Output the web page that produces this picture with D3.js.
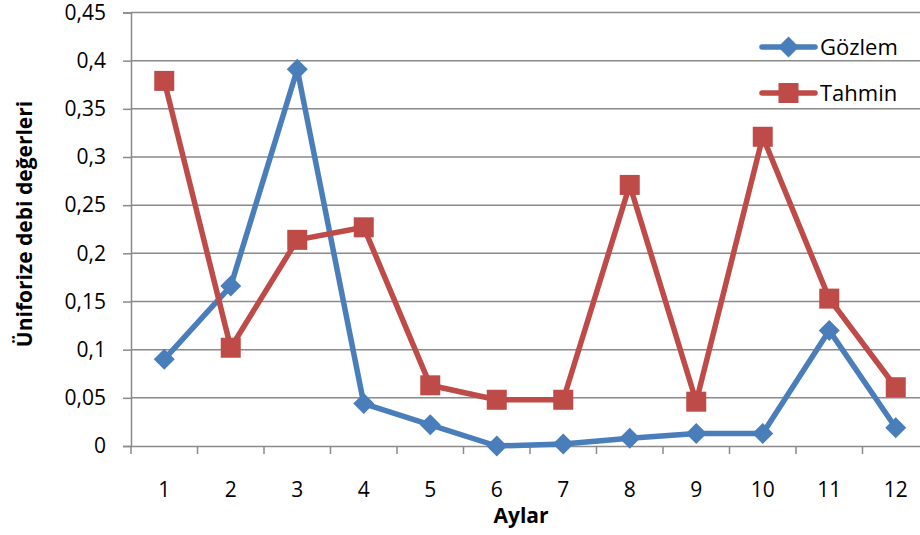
<!DOCTYPE html>
<html>
<head>
<meta charset="utf-8">
<script src="https://cdn.jsdelivr.net/npm/d3@7"></script>
<style>
  body { margin: 0; background: #fff; }
  text { font-family: "Open Sans", Lato, sans-serif; fill: #000; }
</style>
</head>
<body>
<svg width="920" height="535"></svg>
<script>
// data
var months = [1, 2, 3, 4, 5, 6, 7, 8, 9, 10, 11, 12];
var gozlem = [0.09, 0.166, 0.391, 0.044, 0.022, 0.0, 0.002, 0.008, 0.013, 0.013, 0.12, 0.019];
var tahmin = [0.379, 0.102, 0.214, 0.227, 0.063, 0.048, 0.048, 0.271, 0.046, 0.321, 0.153, 0.061];
var yTicks = [0, 0.05, 0.1, 0.15, 0.2, 0.25, 0.3, 0.35, 0.4, 0.45];

var svg = d3.select("svg");

var plotLeft = 131, plotRight = 929, plotTop = 12.5, plotBottom = 446;

var x = d3.scaleBand().domain(months).range([plotLeft, plotRight]);
var y = d3.scaleLinear().domain([0, 0.45]).range([plotBottom, plotTop]);

var fmt = function(d) { return String(d).replace(".", ","); };

// gridlines
svg.append("g")
  .selectAll("line")
  .data(yTicks.slice(1))
  .enter()
  .append("line")
    .attr("x1", plotLeft).attr("x2", plotRight)
    .attr("y1", d => y(d)).attr("y2", d => y(d))
    .style("stroke", "#8a8a8a")
    .style("stroke-width", 1.5);

// y axis
var yAxis = svg.append("g")
  .attr("transform", "translate(" + plotLeft + ",0)")
  .call(d3.axisLeft(y).tickValues(yTicks).tickFormat(fmt).tickSize(8).tickPadding(17));
yAxis.selectAll("text").style("font-size", "21px");

// x axis
var xTicksPos = months.map(m => x(m)).concat([plotRight]);
var xAxis = svg.append("g")
  .attr("transform", "translate(0," + plotBottom + ")")
  .call(d3.axisBottom(x).tickSize(0).tickPadding(36));
xAxis.selectAll("text").style("font-size", "21px");
xAxis.selectAll(".tick line").remove();
xAxis.selectAll("line.xt")
  .data(xTicksPos)
  .enter()
  .append("line")
    .attr("class", "xt")
    .attr("x1", d => d).attr("x2", d => d)
    .attr("y1", 0).attr("y2", 8);

svg.selectAll(".domain, .tick line, line.xt")
  .style("stroke", "#8a8a8a")
  .style("stroke-width", 1.5);

// axis titles
svg.append("text")
  .attr("x", 521).attr("y", 523)
  .attr("text-anchor", "middle")
  .style("font-size", "21px")
  .style("font-weight", "bold")
  .text("Aylar");

svg.append("text")
  .attr("transform", "translate(32,224) rotate(-90)")
  .attr("text-anchor", "middle")
  .style("font-size", "21px")
  .style("font-weight", "bold")
  .text("Üniforize debi değerleri");

var cx = d => x(d) + x.bandwidth() / 2;

var series = [
  { name: "Gözlem", values: gozlem, color: "#4a7ebb", shape: "diamond" },
  { name: "Tahmin", values: tahmin, color: "#be4b48", shape: "square" }
];

var line = d3.line()
  .x((d, i) => cx(months[i]))
  .y(d => y(d));

function marker(g, s, px, py) {
  if (s.shape == "diamond") {
    g.append("path")
      .attr("d", "M" + px + "," + (py - 10.5) + "L" + (px + 10.5) + "," + py + "L" + px + "," + (py + 10.5) + "L" + (px - 10.5) + "," + py + "Z")
      .style("fill", s.color);
  } else {
    g.append("rect")
      .attr("x", px - 10).attr("y", py - 10)
      .attr("width", 20).attr("height", 20)
      .style("fill", s.color);
  }
}

series.forEach(function(s) {
  var g = svg.append("g");
  g.append("path")
    .datum(s.values)
    .attr("d", line)
    .style("fill", "none")
    .style("stroke", s.color)
    .style("stroke-width", 5.5)
    .style("stroke-linejoin", "round");
  s.values.forEach(function(v, i) {
    marker(g, s, cx(months[i]), y(v));
  });
});

// legend
series.forEach(function(s, i) {
  var ly = 47 + i * 46;
  var g = svg.append("g");
  g.append("line")
    .attr("x1", 762).attr("x2", 815)
    .attr("y1", ly).attr("y2", ly)
    .style("stroke", s.color)
    .style("stroke-width", 5.5)
    .style("stroke-linecap", "round");
  marker(g, s, 788.5, ly);
  g.append("text")
    .attr("x", 820).attr("y", ly + 8)
    .style("font-size", "22px")
    .text(s.name);
});
</script>
</body>
</html>
